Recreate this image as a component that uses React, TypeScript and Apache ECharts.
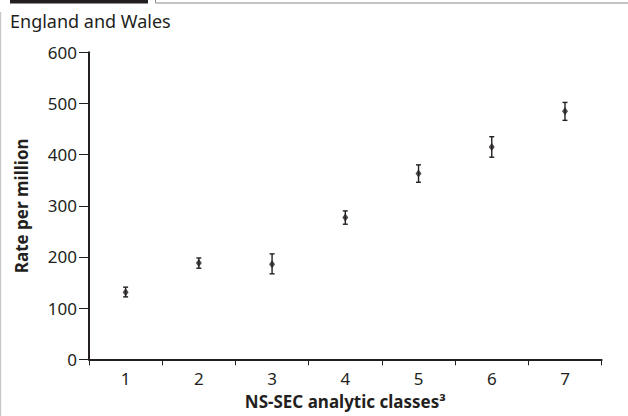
import React, { useEffect, useRef } from "react";
import * as echarts from "echarts";

const categories = ["1", "2", "3", "4", "5", "6", "7"];
const rates = [131, 188, 186, 277, 363, 415, 485];
const lowerCI = [122, 178, 167, 264, 346, 395, 467];
const upperCI = [141, 198, 206, 290, 380, 435, 502];
const yTicks = { min: 0, max: 600, interval: 100 };

const INK = "#231f20";
const FONT = "'Noto Sans', sans-serif";

export default function App() {
  const ref = useRef<HTMLDivElement>(null);
  useEffect(() => {
    document.body.style.margin = "0";
    const chart = echarts.init(ref.current!, null, { renderer: "svg" });
    const errData = categories.map((c, i) => [i, lowerCI[i], upperCI[i]]);
    chart.setOption({
      animation: false,
      backgroundColor: "#ffffff",
      textStyle: { fontFamily: FONT, color: INK },
      graphic: [
        { type: "rect", shape: { x: 10, y: 0, width: 138, height: 3.5 }, style: { fill: INK } },
        { type: "rect", shape: { x: 155.5, y: -2, width: 480, height: 5 }, style: { fill: "#fff", stroke: "#8a8a8a", lineWidth: 1 } },
        { type: "rect", shape: { x: 0, y: 12, width: 1.2, height: 404 }, style: { fill: "#c8c8c8" } },
        {
          type: "text",
          x: 10,
          y: 12,
          style: { text: "England and Wales", fontFamily: FONT, fontSize: 18, fill: INK, textVerticalAlign: "top" },
        },
      ],
      grid: { left: 89, right: 26.4, top: 52.3, bottom: 56.7, outerBoundsMode: "none", containLabel: false },
      xAxis: {
        type: "category",
        data: categories,
        boundaryGap: true,
        axisLine: { lineStyle: { color: INK, width: 2 } },
        axisTick: { show: true, length: 6, lineStyle: { color: INK, width: 1 } },
        axisLabel: { color: INK, fontSize: 17, fontFamily: FONT, margin: 11 },
        name: "NS-SEC analytic classes³",
        nameLocation: "middle",
        nameGap: 34,
        nameTextStyle: { color: INK, fontSize: 17, fontWeight: "bold", fontFamily: FONT },
        splitLine: { show: false },
      },
      yAxis: {
        type: "value",
        min: yTicks.min,
        max: yTicks.max,
        interval: yTicks.interval,
        axisLine: { show: true, lineStyle: { color: INK, width: 2 } },
        axisTick: { show: true, length: 10, lineStyle: { color: INK, width: 1 } },
        axisLabel: { color: INK, fontSize: 17, fontFamily: FONT, margin: 12 },
        splitLine: { show: false },
        name: "Rate per million",
        nameLocation: "middle",
        nameGap: 59,
        nameTextStyle: { color: INK, fontSize: 17, fontWeight: "bold", fontFamily: FONT },
      },
      series: [
        {
          type: "custom",
          data: errData,
          z: 3,
          renderItem: (params: any, api: any) => {
            const x = api.value(0);
            const lo = api.coord([x, api.value(1)]);
            const hi = api.coord([x, api.value(2)]);
            const cap = 2.5;
            const st = { stroke: INK, lineWidth: 1.4 };
            return {
              type: "group",
              children: [
                { type: "line", shape: { x1: lo[0], y1: lo[1], x2: hi[0], y2: hi[1] }, style: st },
                { type: "line", shape: { x1: lo[0] - cap, y1: lo[1], x2: lo[0] + cap, y2: lo[1] }, style: st },
                { type: "line", shape: { x1: hi[0] - cap, y1: hi[1], x2: hi[0] + cap, y2: hi[1] }, style: st },
              ],
            };
          },
        },
        {
          type: "scatter",
          data: rates,
          symbol: "diamond",
          symbolSize: [6, 8],
          itemStyle: { color: INK },
          z: 4,
        },
      ],
    });
    return () => chart.dispose();
  }, []);
  return <div ref={ref} style={{ width: 628, height: 416 }} />;
}
